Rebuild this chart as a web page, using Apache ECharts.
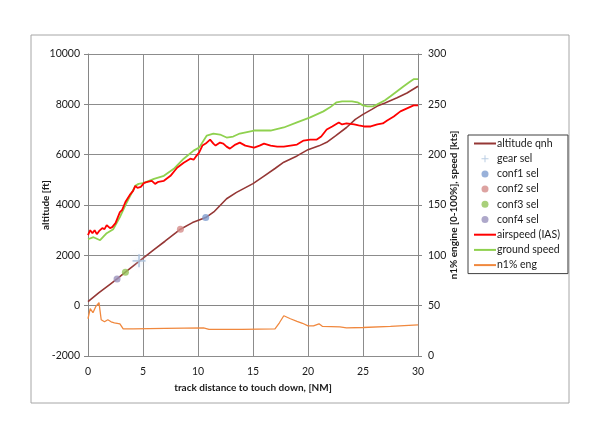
<!DOCTYPE html>
<html>
<head>
<meta charset="utf-8">
<script src="https://cdn.jsdelivr.net/npm/echarts@6/dist/echarts.min.js"></script>
<style>html,body{margin:0;padding:0;background:#fff;}#c{width:600px;height:440px;}</style>
</head>
<body>
<div id="c"></div>
<script>
// ---- data ----
const xTicks = [0, 5, 10, 15, 20, 25, 30];
const altDist = [0, 1, 2, 2.64, 3.4, 4.64, 6, 7, 8, 8.4, 9.5, 10.7, 11.5, 12.6, 13.5, 15, 16, 17, 17.8, 19, 20, 21, 21.7, 22.5, 23.5, 24.3, 25, 25.8, 26.3, 27, 28.1, 29, 30];
const altVals = [160, 520, 850, 1062, 1328, 1760, 2230, 2560, 2900, 3039, 3300, 3500, 3750, 4250, 4500, 4850, 5150, 5450, 5700, 5950, 6200, 6350, 6490, 6750, 7080, 7400, 7600, 7800, 7930, 8050, 8260, 8450, 8720];
const gearSel = [[4.64, 1780]];
const conf1Sel = [[10.7, 3500]];
const conf2Sel = [[8.4, 3039]];
const conf3Sel = [[3.4, 1328]];
const conf4Sel = [[2.64, 1062]];
const iasDist = [0, 0.2, 0.4, 0.6, 0.8, 1.0, 1.3, 1.5, 1.7, 2.0, 2.2, 2.5, 2.9, 3.1, 3.4, 3.8, 4.1, 4.3, 4.5, 4.8, 5.1, 5.4, 5.8, 6.1, 6.4, 6.9, 7.5, 8.1, 8.7, 9.0, 9.3, 9.6, 9.8, 10.1, 10.4, 10.7, 11.1, 11.4, 11.6, 12.0, 12.3, 12.6, 12.9, 13.4, 13.8, 14.3, 15.1, 15.6, 16.0, 16.6, 17.2, 17.8, 18.4, 19.0, 19.6, 20.2, 20.8, 21.2, 21.7, 22.2, 22.8, 23.1, 23.5, 24.2, 24.6, 25.1, 25.7, 26.3, 26.8, 27.2, 27.8, 28.4, 29.0, 29.6, 30];
const iasVals = [120, 125, 122, 125, 121, 124, 127, 126, 130, 127, 128, 132, 143, 145, 153, 160, 164, 169, 167, 168, 172, 173, 174, 171, 173, 174, 179, 187, 192, 194, 196, 195, 198, 202, 209, 211, 215, 211, 209, 212, 211, 208, 206, 210, 212, 209, 207, 209, 211, 209, 208, 208, 209, 210, 214, 215, 215, 218, 225, 228, 232, 230, 231, 230, 229, 228, 228, 230, 231, 234, 238, 243, 246, 249, 249];
const gsDist = [0, 0.5, 1.1, 1.7, 2.3, 2.9, 3.5, 4.3, 4.6, 5.1, 6.0, 6.9, 7.8, 8.7, 9.6, 10.1, 10.8, 11.4, 12.0, 12.6, 13.2, 13.8, 15.1, 16.6, 17.8, 19.0, 20.2, 21.4, 22.0, 22.6, 23.1, 23.5, 24.0, 24.5, 25.0, 25.4, 25.9, 26.3, 27.0, 27.5, 28.1, 28.7, 29.2, 29.6, 30];
const gsVals = [116, 118, 115, 122, 126, 138, 152, 169, 171, 172, 176, 179, 186, 196, 204, 207, 219, 221, 220, 217, 218, 221, 224, 224, 227, 232, 237, 243, 247, 252, 253, 253, 253, 252, 249, 248, 248, 250, 254, 258, 263, 268, 272, 275, 275];
const n1Dist = [0, 0.2, 0.45, 0.7, 1.0, 1.2, 1.5, 1.8, 2.1, 2.4, 2.9, 3.2, 4.1, 7, 10.5, 11.0, 14, 17.0, 17.4, 17.8, 18.4, 19.0, 19.5, 20.0, 20.5, 21.0, 21.3, 22.9, 23.5, 25, 27.5, 30];
const n1Vals = [37, 47, 43, 49, 53, 36, 34, 36, 34, 33, 32, 27, 27, 27.5, 28, 26.5, 26.5, 27, 33, 40, 37, 34.5, 32.5, 30, 30, 32, 29.5, 29, 28, 28.3, 29.5, 31];

const pairs = (xs, ys) => xs.map((x, i) => [x, ys[i]]);
const FONT = 'Lato';
const LINE_ICON = 'path://M0,0 L22,0 L22,2 L0,2 Z';

const chart = echarts.init(document.getElementById('c'), null, {renderer: 'canvas'});
const axisLine = {show: true, lineStyle: {color: '#868686', width: 1}};
const axisTick = {show: true, length: 4, inside: false, lineStyle: {color: '#868686'}};
const splitLine = {show: true, lineStyle: {color: '#8c8c8c', width: 1}};
const labelStyle = {color: '#1a1a1a', fontFamily: FONT, fontSize: 10.5};
const nameStyle = {color: '#1a1a1a', fontFamily: FONT, fontSize: 10, fontWeight: 'bold'};

chart.setOption({
  animation: false,
  backgroundColor: '#fff',
  textStyle: {fontFamily: FONT},
  graphic: [{type: 'rect', shape: {x: 31, y: 35, width: 538, height: 368}, style: {fill: 'none', stroke: '#a6a6a6', lineWidth: 1}, z: -10}],
  grid: {left: 88, right: 182, top: 54, bottom: 84},
  xAxis: {
    type: 'value', min: 0, max: 30, interval: 5,
    name: 'track distance to touch down, [NM]', nameLocation: 'middle', nameGap: 27, nameMoveOverlap: false,
    nameTextStyle: nameStyle,
    axisLine: axisLine, axisTick: axisTick, splitLine: splitLine,
    axisLabel: Object.assign({margin: 10}, labelStyle)
  },
  yAxis: [{
    type: 'value', min: -2000, max: 10000, interval: 2000, position: 'left',
    name: 'altitude [ft]', nameLocation: 'middle', nameGap: 37, nameRotate: 90, nameMoveOverlap: false,
    nameTextStyle: nameStyle,
    axisLine: axisLine, axisTick: axisTick, splitLine: splitLine,
    axisLabel: Object.assign({margin: 8, formatter: v => String(v)}, labelStyle)
  }, {
    type: 'value', min: 0, max: 300, interval: 50, position: 'right',
    name: 'n1% engine [0-100%], speed [kts]', nameLocation: 'middle', nameGap: 31, nameRotate: 90, nameMoveOverlap: false,
    nameTextStyle: nameStyle,
    axisLine: axisLine, axisTick: axisTick, splitLine: {show: false},
    axisLabel: Object.assign({margin: 10}, labelStyle)
  }],
  legend: {
    orient: 'vertical', left: 468, top: 135,
    width: 97,
    backgroundColor: '#fff', borderColor: '#404040', borderWidth: 1,
    padding: [2, 8, 2, 6],
    itemWidth: 22, itemHeight: 7, itemGap: 2.2,
    textStyle: {color: '#1a1a1a', fontFamily: FONT, fontSize: 10.5, lineHeight: 13, padding: [0, 0, 0, -4]},
    data: [
      {name: 'altitude qnh', icon: LINE_ICON},
      'gear sel', 'conf1 sel', 'conf2 sel', 'conf3 sel', 'conf4 sel',
      {name: 'airspeed (IAS)', icon: LINE_ICON},
      {name: 'ground speed', icon: LINE_ICON},
      {name: 'n1% eng', icon: LINE_ICON}
    ]
  },
  series: [
    {name: 'altitude qnh', type: 'line', yAxisIndex: 0, symbol: 'none', data: pairs(altDist, altVals),
      lineStyle: {color: '#953735', width: 1.6}, itemStyle: {color: '#953735'}, z: 3},
    {name: 'gear sel', type: 'scatter', yAxisIndex: 0, data: gearSel, symbolSize: 13,
      symbol: 'path://M4.3,0 L5.7,0 L5.7,4.3 L10,4.3 L10,5.7 L5.7,5.7 L5.7,10 L4.3,10 L4.3,5.7 L0,5.7 L0,4.3 L4.3,4.3 Z',
      itemStyle: {color: '#a9c0dc', shadowColor: 'rgba(200,215,235,0.9)', shadowBlur: 6}, z: 6},
    {name: 'conf1 sel', type: 'scatter', yAxisIndex: 0, data: conf1Sel, symbolSize: 7, itemStyle: {color: '#7f9dcf'}, z: 6},
    {name: 'conf2 sel', type: 'scatter', yAxisIndex: 0, data: conf2Sel, symbolSize: 7, itemStyle: {color: '#d58c8a'}, z: 6},
    {name: 'conf3 sel', type: 'scatter', yAxisIndex: 0, data: conf3Sel, symbolSize: 7, itemStyle: {color: '#93c45a'}, z: 6},
    {name: 'conf4 sel', type: 'scatter', yAxisIndex: 0, data: conf4Sel, symbolSize: 7, itemStyle: {color: '#9a92bd'}, z: 6},
    {name: 'airspeed (IAS)', type: 'line', yAxisIndex: 1, symbol: 'none', data: pairs(iasDist, iasVals),
      lineStyle: {color: '#ff0000', width: 1.8}, itemStyle: {color: '#ff0000'}, z: 4},
    {name: 'ground speed', type: 'line', yAxisIndex: 1, symbol: 'none', data: pairs(gsDist, gsVals),
      lineStyle: {color: '#8fd14f', width: 1.8}, itemStyle: {color: '#8fd14f'}, z: 3},
    {name: 'n1% eng', type: 'line', yAxisIndex: 1, symbol: 'none', data: pairs(n1Dist, n1Vals),
      lineStyle: {color: '#f0883e', width: 1.3}, itemStyle: {color: '#f0883e'}, z: 3}
  ]
});
</script>
</body>
</html>
